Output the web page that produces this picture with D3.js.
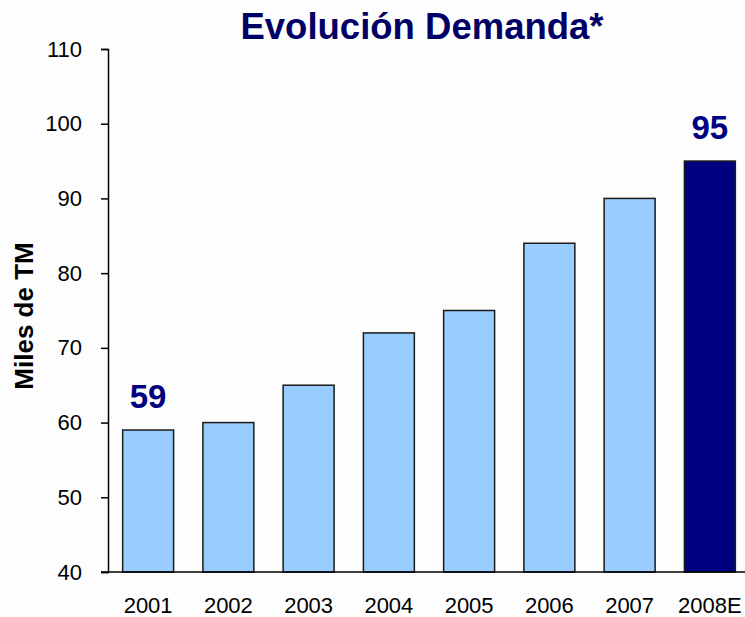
<!DOCTYPE html>
<html>
<head>
<meta charset="utf-8">
<script src="https://cdn.jsdelivr.net/npm/d3@7"></script>
<style>
  html, body { margin: 0; padding: 0; background: #fdfdfd; }
  svg text { font-family: "Liberation Sans", Arial, sans-serif; }
</style>
</head>
<body>
<svg id="chart" width="745" height="617"></svg>
<script>
// Chart data
const years  = ['2001', '2002', '2003', '2004', '2005', '2006', '2007', '2008E'];
const demand = [59, 60, 65, 72, 75, 84, 90, 95];
const yTicks = [40, 50, 60, 70, 80, 90, 100, 110];
// only first and last bars get a value label
const labelled = ['2001', '2008E'];

const data = years.map((y, i) => ({ year: y, value: demand[i] }));

const svg = d3.select('#chart');

const x = d3.scaleBand()
    .domain(years)
    .range([108, 750])
    .paddingInner(0.365)
    .paddingOuter(0.1825);

const y = d3.scaleLinear()
    .domain([40, 110])
    .range([572, 49]);

// Bars
svg.selectAll('rect.bar')
    .data(data)
    .enter()
    .append('rect')
    .attr('class', 'bar')
    .attr('x', d => x(d.year))
    .attr('y', d => y(d.value))
    .attr('width', x.bandwidth())
    .attr('height', d => y(40) - y(d.value))
    .attr('fill', d => d.year === '2008E' ? '#000080' : '#99ccff')
    .attr('stroke', '#1a1a1a')
    .attr('stroke-width', 1.5);

// Y axis
const yAxis = svg.append('g')
    .attr('transform', 'translate(108,0)')
    .call(d3.axisLeft(y).tickValues(yTicks).tickSize(7).tickPadding(19));
yAxis.select('.domain').attr('stroke', '#000').attr('stroke-width', 1.5);
yAxis.selectAll('.tick line').attr('stroke', '#000').attr('stroke-width', 1.5);
yAxis.selectAll('.tick text')
    .attr('font-size', 22)
    .attr('fill', '#000')
    .style('font-family', '"Liberation Sans", Arial, sans-serif');

// X axis baseline (no tick marks)
svg.append('line')
    .attr('x1', 101).attr('x2', 745)
    .attr('y1', y(40)).attr('y2', y(40))
    .attr('stroke', '#000')
    .attr('stroke-width', 1.5);

svg.selectAll('text.xlab')
    .data(years)
    .enter()
    .append('text')
    .attr('class', 'xlab')
    .attr('x', d => x(d) + x.bandwidth() / 2)
    .attr('y', 613)
    .attr('text-anchor', 'middle')
    .attr('font-size', 22)
    .attr('fill', '#000')
    .text(d => d);

// Value labels
svg.selectAll('text.val')
    .data(data.filter(d => labelled.includes(d.year)))
    .enter()
    .append('text')
    .attr('class', 'val')
    .attr('x', d => x(d.year) + x.bandwidth() / 2)
    .attr('y', d => y(d.value) - 22)
    .attr('text-anchor', 'middle')
    .attr('font-size', 33)
    .attr('font-weight', 'bold')
    .attr('fill', '#000080')
    .text(d => d.value);

// Title
svg.append('text')
    .attr('x', 422)
    .attr('y', 39)
    .attr('text-anchor', 'middle')
    .attr('font-size', 36.5)
    .attr('font-weight', 'bold')
    .attr('fill', '#000066')
    .text('Evolución Demanda*');

// Y axis title
svg.append('text')
    .attr('transform', 'translate(33,316) rotate(-90)')
    .attr('text-anchor', 'middle')
    .attr('font-size', 26)
    .attr('font-weight', 'bold')
    .attr('fill', '#000')
    .text('Miles de TM');
</script>
</body>
</html>
